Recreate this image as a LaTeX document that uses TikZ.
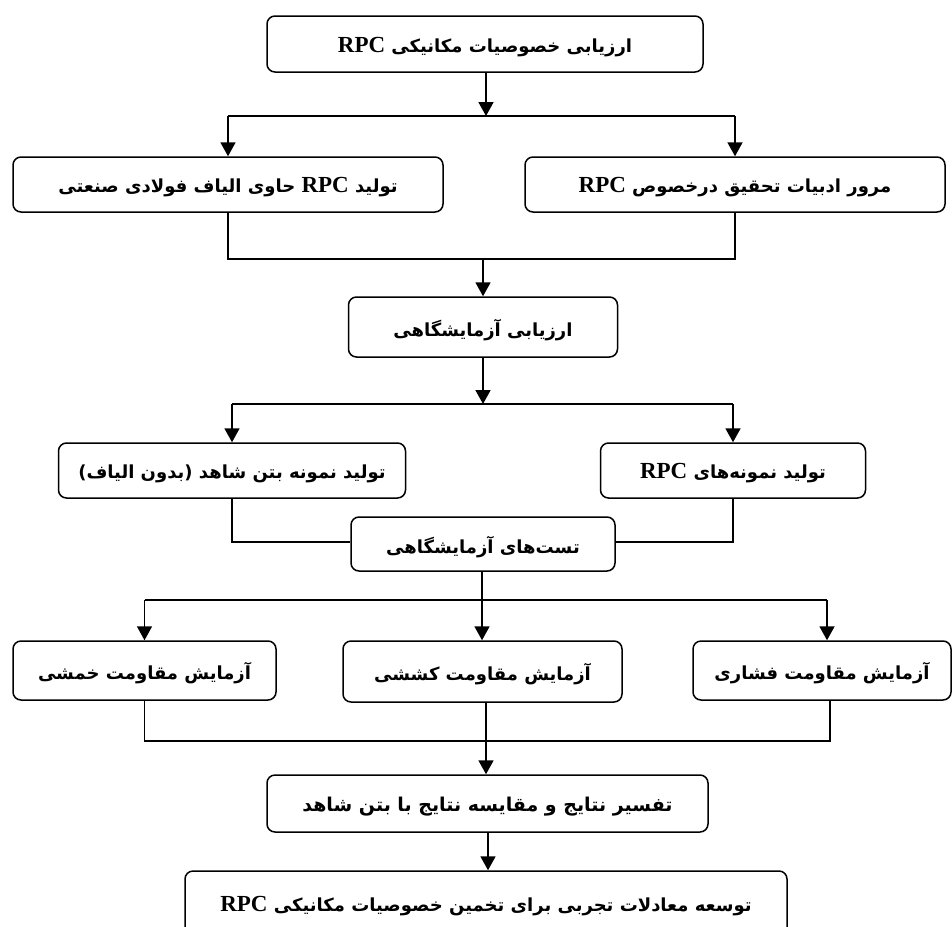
\documentclass[tikz,border=0pt]{standalone}
\usepackage{fontspec}
\setmainfont{Liberation Serif}
\newfontfamily\fafont[Script=Arabic]{DejaVu Sans}
\TeXXeTstate=1
\usetikzlibrary{arrows.meta}
\newcommand{\lat}[1]{{\beginL\rmfamily\bfseries\fontsize{23}{26}\selectfont #1\endL}}
\newcommand{\fa}[1]{\raisebox{-3pt}[\height][\depth]{\beginR #1\endR}}
\tikzset{
  box/.style={draw, line width=1.5pt, rounded corners=8pt, fill=white, inner sep=0pt,
    font=\fafont\bfseries\fontsize{18}{21}\selectfont},
  arr/.style={line width=1.8pt, -{Triangle[length=14pt,width=15pt]}},
  bar/.style={line width=1.8pt},
  ln/.style={line width=1.3pt}
}
\begin{document}
\begin{tikzpicture}[x=1pt,y=-1pt]
\useasboundingbox[fill=white] (0,0) rectangle (952,926);
% nodes
\node[box, minimum width=436pt, minimum height=56pt] (top) at (485,44) {\fa{ارزیابی خصوصیات مکانیکی \lat{RPC}}};
\node[box, minimum width=430pt, minimum height=55pt] (l1) at (228,184.5) {\fa{تولید \lat{RPC} حاوی الیاف فولادی صنعتی}};
\node[box, minimum width=420pt, minimum height=55pt] (r1) at (735,184.5) {\fa{مرور ادبیات تحقیق درخصوص \lat{RPC}}};
\node[box, minimum width=269pt, minimum height=60pt] (lab) at (483,327) {\fa{ارزیابی آزمایشگاهی}};
\node[box, minimum width=347pt, minimum height=55pt] (l2) at (232,470.5) {\fa{تولید نمونه بتن شاهد (بدون الیاف)}};
\node[box, minimum width=265pt, minimum height=55pt] (r2) at (733,470.5) {\fa{تولید نمونه^^^^200cهای \lat{RPC}}};
\node[box, minimum width=264pt, minimum height=54pt] (tests) at (483,544) {\fa{تست^^^^200cهای آزمایشگاهی}};
\node[box, minimum width=263pt, minimum height=59pt] (b1) at (144.5,670.5) {\fa{آزمایش مقاومت خمشی}};
\node[box, minimum width=279pt, minimum height=61pt] (b2) at (482.5,671.5) {\fa{آزمایش مقاومت کششی}};
\node[box, minimum width=258pt, minimum height=59pt] (b3) at (822,670.5) {\fa{آزمایش مقاومت فشاری}};
\node[box, minimum width=441pt, minimum height=57pt] (interp) at (487.5,803.5) {\fa{\fontsize{19}{22}\selectfont تفسیر نتایج و مقایسه نتایج با بتن شاهد}};
\node[box, minimum width=602pt, minimum height=64pt] (final) at (486,903) {\fa{توسعه معادلات تجربی برای تخمین خصوصیات مکانیکی \lat{RPC}}};
% junction coordinates
\coordinate (j1) at (486,116);
\coordinate (m1) at (483,259);
\coordinate (j2) at (483,404);
\coordinate (m2) at (483,542);
\coordinate (j3) at (482,600);
\coordinate (m3) at (486,741);
\coordinate (a5) at (488,832);
% connectors
\draw[arr] (j1 |- top.south) -- (j1);
\draw[bar] (l1.north |- j1) -- (r1.north |- j1);
\draw[arr] (l1.north |- j1) -- (l1.north);
\draw[arr] (r1.north |- j1) -- (r1.north);
\draw[ln] (l1.south) -- (l1.south |- m1) -- (r1.south |- m1) -- (r1.south);
\draw[arr] (m1) -- (lab.north);
\draw[arr] (lab.south) -- (j2);
\draw[bar] (l2.north |- j2) -- (r2.north |- j2);
\draw[arr] (l2.north |- j2) -- (l2.north);
\draw[arr] (r2.north |- j2) -- (r2.north);
\draw[ln] (l2.south) -- (l2.south |- m2) -- (tests.west |- m2);
\draw[ln] (r2.south) -- (r2.south |- m2) -- (tests.east |- m2);
\draw[arr] (j3 |- tests.south) -- (j3 |- b2.north);
\draw[bar] (b1.north |- j3) -- ([xshift=5pt]b3.north |- j3);
\draw[arr] (b1.north |- j3) -- (b1.north);
\draw[arr] ([xshift=5pt]b3.north |- j3) -- ([xshift=5pt]b3.north);
\draw[ln] (b1.south) -- (b1.south |- m3) -- ([xshift=8pt]b3.south |- m3) -- ([xshift=8pt]b3.south);
\draw[arr] (m3 |- b2.south) -- (m3 |- interp.north);
\draw[arr] (a5 |- interp.south) -- (a5 |- final.north);
\end{tikzpicture}
\end{document}
